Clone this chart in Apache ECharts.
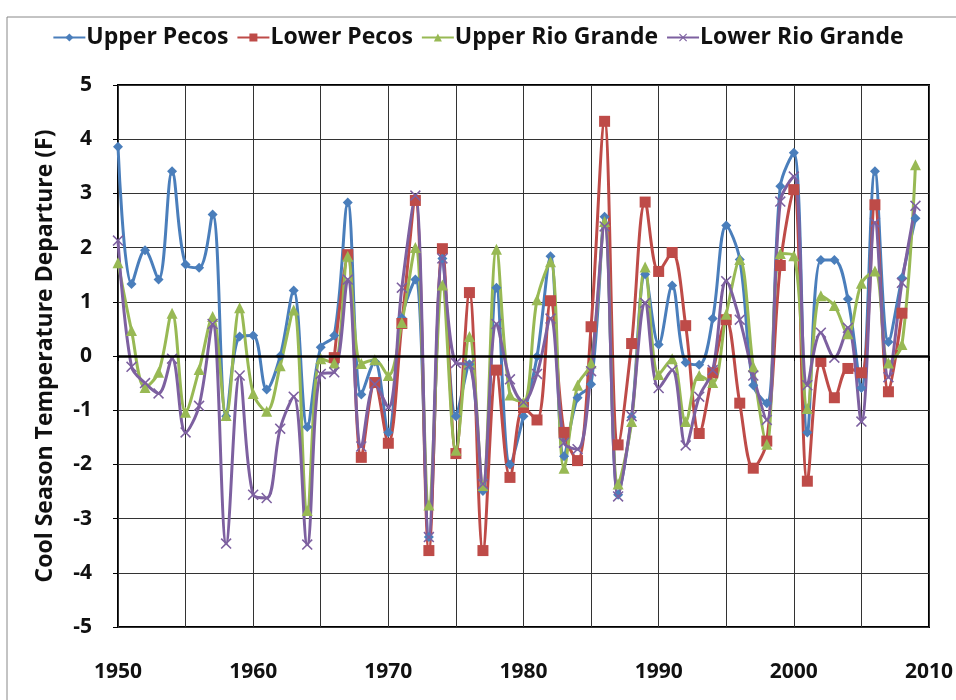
<!DOCTYPE html>
<html>
<head>
<meta charset="utf-8">
<script src="https://cdn.jsdelivr.net/npm/echarts@6/dist/echarts.min.js"></script>
<style>
  html, body { margin: 0; padding: 0; background: #fff; }
  #chart { width: 956px; height: 700px; }
</style>
</head>
<body>
<div id="chart"></div>
<script>
const years = [];
for (let y = 1950; y <= 2009; y++) years.push(y);

const upperPecos = [
  3.86, 1.33, 1.95, 1.41, 3.41, 1.69, 1.63, 2.61, -1.11, 0.36,
  0.38, -0.62, 0.0, 1.21, -1.31, 0.16, 0.38, 2.83, -0.71, -0.1,
  -1.41, 0.7, 1.41, -3.34, 1.8, -1.11, -0.15, -2.49, 1.26, -2.0,
  -1.11, -0.01, 1.84, -1.85, -0.77, -0.52, 2.57, -2.56, -1.13, 1.51,
  0.21, 1.3, -0.12, -0.16, 0.69, 2.41, 1.78, -0.54, -0.87, 3.13,
  3.75, -1.41, 1.77, 1.77, 1.05, -0.59, 3.41, 0.26, 1.44, 2.54
];
const lowerPecos = [
  null, null, null, null, null, null, null, null, null, null,
  null, null, null, null, null, null, -0.03, 1.87, -1.87, -0.49,
  -1.61, 0.6, 2.87, -3.59, 1.98, -1.8, 1.17, -3.59, -0.26, -2.24,
  -0.95, -1.18, 1.02, -1.41, -1.93, 0.54, 4.33, -1.64, 0.23, 2.84,
  1.56, 1.91, 0.56, -1.43, -0.31, 0.67, -0.87, -2.07, -1.57, 1.67,
  3.07, -2.31, -0.1, -0.77, -0.23, -0.31, 2.79, -0.66, 0.79, null
];
const upperRioGrande = [
  1.72, 0.47, -0.58, -0.3, 0.79, -1.04, -0.25, 0.73, -1.1, 0.89,
  -0.69, -1.02, -0.18, 0.85, -2.85, -0.05, -0.13, 1.84, -0.14, -0.07,
  -0.36, 0.62, 2.0, -2.75, 1.31, -1.74, 0.36, -2.39, 1.97, -0.72,
  -0.85, 1.04, 1.74, -2.07, -0.54, -0.13, 2.48, -2.36, -1.21, 1.64,
  -0.34, -0.05, -1.21, -0.36, -0.49, 0.77, 1.78, -0.2, -1.63, 1.89,
  1.85, -0.97, 1.11, 0.93, 0.41, 1.34, 1.57, -0.13, 0.21, 3.53
];
const lowerRioGrande = [
  2.13, -0.2, -0.5, -0.69, -0.05, -1.41, -0.92, 0.59, -3.46, -0.36,
  -2.56, -2.62, -1.34, -0.75, -3.48, -0.33, -0.3, 1.41, -1.67, -0.52,
  -0.95, 1.26, 2.96, -3.34, 1.8, -0.13, -0.16, -2.36, 0.59, -0.43,
  -0.85, -0.33, 0.69, -1.6, -1.72, -0.28, 2.39, -2.59, -1.11, 0.98,
  -0.59, -0.26, -1.65, -0.75, -0.26, 1.38, 0.67, -0.36, -1.18, 2.85,
  3.31, -0.54, 0.43, -0.03, 0.52, -1.21, 2.46, -0.39, 1.35, 2.77
];

const seriesNames = ["Upper Pecos", "Lower Pecos", "Upper Rio Grande", "Lower Rio Grande"];
const colors = ["#4a7ebb", "#be4b48", "#98b954", "#7d60a0"];
const xMarker = "path://M0,1L1,0L5,4L9,0L10,1L6,5L10,9L9,10L5,6L1,10L0,9L4,5Z";
const symbols = ["diamond", "rect", "triangle", xMarker];
const symbolSizes = [10, 11, 11, 11];
const allValues = [upperPecos, lowerPecos, upperRioGrande, lowerRioGrande];

const font = "'Open Sans', sans-serif";
const chart = echarts.init(document.getElementById("chart"), null, { renderer: "canvas" });

const series = seriesNames.map((name, i) => ({
  name: name,
  type: "line",
  smooth: 0.35,
  connectNulls: false,
  symbol: symbols[i],
  symbolSize: symbolSizes[i],
  showAllSymbol: true,
  lineStyle: { color: colors[i], width: 3 },
  itemStyle: { color: colors[i] },
  data: years.map((y, k) => [y, allValues[i][k]]),
  markLine: i === 0 ? {
    silent: true,
    symbol: "none",
    label: { show: false },
    lineStyle: { color: "#000", width: 2.5, type: "solid" },
    data: [{ yAxis: 0 }]
  } : undefined
}));

chart.setOption({
  backgroundColor: "#fff",
  animation: false,
  color: colors,
  textStyle: { fontFamily: font },
  graphic: [{
    type: "rect",
    shape: { x: 7, y: 17, width: 960, height: 700 },
    style: { fill: "none", stroke: "#888", lineWidth: 1 },
    silent: true
  }],
  legend: {
    top: 21,
    left: "center",
    itemWidth: 32,
    itemHeight: 10,
    itemGap: 8,
    textStyle: { fontFamily: font, fontSize: 23, fontWeight: 700, color: "#111", padding: [0, 0, 0, -4] },
    data: seriesNames
  },
  grid: {
    left: 118,
    right: 26,
    top: 85,
    bottom: 73,
    show: true,
    borderColor: "#000",
    borderWidth: 2,
    backgroundColor: "#fff"
  },
  xAxis: {
    type: "value",
    min: 1950,
    max: 2010,
    interval: 5,
    axisLine: { show: false },
    axisTick: { show: true, length: 5, lineStyle: { color: "#000" } },
    splitLine: { show: true, lineStyle: { color: "#333", width: 1 } },
    axisLabel: {
      margin: 35,
      fontSize: 21,
      fontWeight: 700,
      color: "#111",
      fontFamily: font,
      formatter: v => (v % 10 === 0 ? String(v) : "")
    }
  },
  yAxis: {
    type: "value",
    min: -5,
    max: 5,
    interval: 1,
    name: "Cool Season Temperature Departure (F)",
    nameLocation: "middle",
    nameGap: 61,
    nameTextStyle: { fontSize: 23, fontWeight: 700, color: "#111", fontFamily: font },
    axisLine: { show: false },
    axisTick: { show: true, length: 5, lineStyle: { color: "#000" } },
    splitLine: { show: true, lineStyle: { color: "#333", width: 1 } },
    axisLabel: {
      margin: 26,
      fontSize: 21,
      fontWeight: 700,
      color: "#111",
      fontFamily: font
    }
  },
  series: series
});
</script>
</body>
</html>
